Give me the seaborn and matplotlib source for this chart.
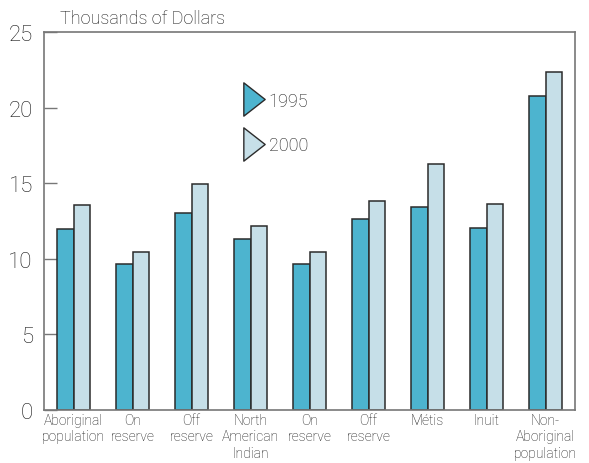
import matplotlib
matplotlib.use("Agg")
import matplotlib.pyplot as plt
from matplotlib.lines import Line2D
from matplotlib.path import Path
import seaborn as sns
import pandas as pd

# Category labels along the x axis (some repeat, so each gets its own key)
labels = [
    "Aboriginal\npopulation",
    "On\nreserve",
    "Off\nreserve",
    "North\nAmerican\nIndian",
    "On\nreserve",
    "Off\nreserve",
    "Métis",
    "Inuit",
    "Non-\nAboriginal\npopulation",
]
years = ["1995", "2000"]
income_1995 = [12.0, 9.65, 13.05, 11.3, 9.65, 12.65, 13.45, 12.05, 20.8]
income_2000 = [13.55, 10.45, 14.95, 12.2, 10.45, 13.8, 16.3, 13.65, 22.35]
yticks = [0, 5, 10, 15, 20, 25]

colors = {"1995": "#4db4cf", "2000": "#c6dfe8"}
keys = [f"c{i}" for i in range(len(labels))]

df = pd.DataFrame({
    "group": keys * 2,
    "year": [years[0]] * len(keys) + [years[1]] * len(keys),
    "income": income_1995 + income_2000,
})

sns.set_style("white")
plt.rcParams["font.family"] = ["Roboto", "DejaVu Sans"]
plt.rcParams["font.weight"] = "light"
text_color = "#161616"

fig = plt.figure(figsize=(5.89, 4.64), dpi=100)
ax = fig.add_axes([44 / 589, 1 - 411 / 464, 531 / 589, 378 / 464])

sns.barplot(
    data=df, x="group", y="income", hue="year", order=keys,
    hue_order=years, palette=colors, width=0.575, gap=0,
    edgecolor="#2b2b2b", linewidth=1.1, saturation=1, legend=False, ax=ax,
)

ax.set_xlim(-0.5, len(keys) - 0.5)
ax.set_ylim(0, 25)
ax.set_yticks(yticks)
ax.set_yticklabels([str(t) for t in yticks], fontsize=16, color=text_color)
ax.set_xticks(range(len(keys)))
ax.set_xticklabels(labels, fontsize=10, color=text_color, linespacing=1.22)
ax.tick_params(axis="x", length=0, pad=2)
ax.tick_params(axis="y", direction="in", length=9, width=1, color="#777777",
               pad=8, left=True, right=False)
ax.set_xlabel("")
ax.set_ylabel("")

for side in ["left", "right", "top", "bottom"]:
    ax.spines[side].set_visible(True)
    ax.spines[side].set_color("#777777")
    ax.spines[side].set_linewidth(1.2)

fig.text(60 / 589, 1 - 19 / 464, "Thousands of Dollars", fontsize=13,
         color=text_color, ha="left", va="center")

# Tall right-pointing triangle for the legend keys
tri = Path([(-0.32, -0.5), (0.32, 0.0), (-0.32, 0.5), (-0.32, -0.5)],
           [Path.MOVETO, Path.LINETO, Path.LINETO, Path.CLOSEPOLY])
handles = [
    Line2D([], [], marker=tri, linestyle="none", markersize=24,
           markerfacecolor=colors[y], markeredgecolor="#2b2b2b",
           markeredgewidth=1.0)
    for y in years
]
ax.legend(handles, years, loc="upper left", bbox_to_anchor=(0.345, 0.885),
          frameon=False, fontsize=13, handlelength=1.2, handletextpad=0.2,
          labelspacing=1.45, labelcolor=text_color)

fig.savefig("out.png", dpi=100)
